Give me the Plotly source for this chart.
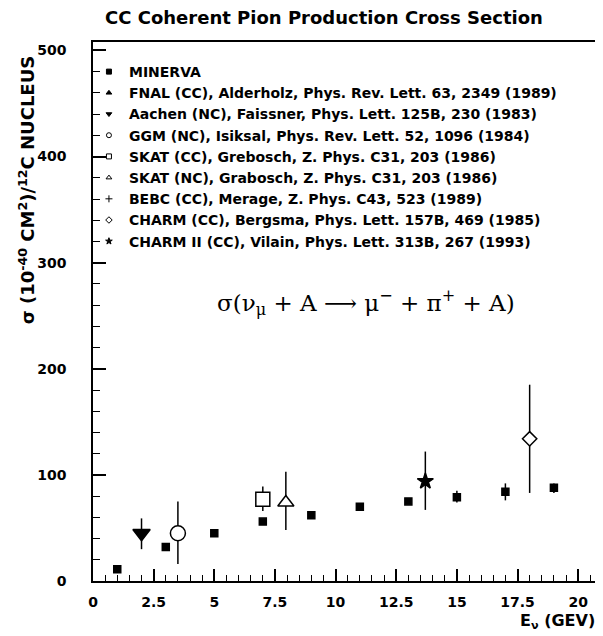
import plotly.graph_objects as go

# ---- data ----
minerva_E = [1, 3, 5, 7, 9, 11, 13, 15, 17, 19]
minerva_xs = [11, 32, 45, 56, 62, 70, 75, 79, 84, 88]
minerva_ep = [0, 0, 0, 0, 0, 0, 0, 6, 8, 4]
minerva_em = [0, 0, 0, 0, 0, 0, 0, 5, 8, 5]

aachen_E, aachen_xs, aachen_ep, aachen_em = [2.0], [45], [14], [15]
ggm_E, ggm_xs, ggm_ep, ggm_em = [3.5], [45], [30], [29]
skatcc_E, skatcc_xs, skatcc_ep, skatcc_em = [7.0], [77], [12], [11]
skatnc_E, skatnc_xs, skatnc_ep, skatnc_em = [7.95], [74], [29], [26]
bebc_E, bebc_xs, bebc_ep, bebc_em = [13.7], [94], [28], [27]
charm_E, charm_xs, charm_ep, charm_em = [18.0], [134], [51], [51]

legend_labels = [
    "MINERVA",
    "FNAL (CC), Alderholz, Phys. Rev. Lett. 63, 2349 (1989)",
    "Aachen (NC), Faissner, Phys. Lett. 125B, 230 (1983)",
    "GGM (NC), Isiksal, Phys. Rev. Lett. 52, 1096 (1984)",
    "SKAT (CC), Grebosch, Z. Phys. C31, 203 (1986)",
    "SKAT (NC), Grabosch, Z. Phys. C31, 203 (1986)",
    "BEBC (CC), Merage, Z. Phys. C43, 523 (1989)",
    "CHARM (CC), Bergsma, Phys. Lett. 157B, 469 (1985)",
    "CHARM II (CC), Vilain, Phys. Lett. 313B, 267 (1993)",
]
legend_symbols = ["square", "triangle-up", "triangle-down", "circle-open", "square-open",
                  "triangle-up-open", "cross-thin-open", "diamond-open", "star"]

x_ticks = [0, 2.5, 5, 7.5, 10, 12.5, 15, 17.5, 20]
y_ticks = [0, 100, 200, 300, 400, 500]

fig = go.Figure()

def add_pts(E, xs, ep, em, symbol, size, fill):
    fig.add_trace(go.Scatter(
        x=E, y=xs, mode="markers", showlegend=False,
        marker=dict(symbol=symbol, size=size, color=fill,
                    line=dict(color="black", width=1.5)),
        error_y=dict(type="data", array=ep, arrayminus=em, symmetric=False,
                     color="black", thickness=1.5, width=0),
    ))

add_pts(minerva_E, minerva_xs, minerva_ep, minerva_em, "square", 7, "black")
add_pts(aachen_E, aachen_xs, aachen_ep, aachen_em, "triangle-down", 15, "black")
add_pts(ggm_E, ggm_xs, ggm_ep, ggm_em, "circle", 15, "white")
add_pts(skatcc_E, skatcc_xs, skatcc_ep, skatcc_em, "square", 14, "white")
add_pts(skatnc_E, skatnc_xs, skatnc_ep, skatnc_em, "triangle-up", 14, "white")
add_pts(bebc_E, bebc_xs, bebc_ep, bebc_em, "star", 12, "black")
add_pts(charm_E, charm_xs, charm_ep, charm_em, "diamond", 11, "white")

for lab, sym in zip(legend_labels, legend_symbols):
    fig.add_trace(go.Scatter(
        x=[None], y=[None], mode="markers", name=lab,
        marker=dict(symbol=sym, size=5, color="black",
                    line=dict(color="black", width=1)),
    ))

FAM = "DejaVu Sans, sans-serif"
font_b = dict(family=FAM, color="black", weight="bold")

fig.update_layout(
    width=595, height=628,
    margin=dict(l=85, r=1, t=34, b=55),
    paper_bgcolor="white", plot_bgcolor="white",
    title=dict(text="CC Coherent Pion Production Cross Section",
               x=0.531, xanchor="center", y=0.994, yanchor="top",
               font=dict(size=18, **font_b)),
    showlegend=True,
    legend=dict(x=-0.008, y=0.974, xanchor="left", yanchor="top",
                bgcolor="rgba(0,0,0,0)", itemsizing="trace",
                font=dict(size=14, family=FAM, color="black", weight="bold"),
                tracegroupgap=0, itemwidth=30),
    xaxis=dict(range=[0, 20.9], tickvals=x_ticks, ticks="inside", ticklen=12,
               tickwidth=1.5, tickcolor="black", showline=True, linecolor="black",
               linewidth=1.5, mirror=True, showgrid=False, zeroline=False,
               tickfont=dict(size=14, **font_b), ticklabelstandoff=7,
               minor=dict(dtick=0.5, ticks="inside", ticklen=6, tickcolor="black",
                          tickwidth=1.2, showgrid=False)),
    yaxis=dict(range=[0, 508], tickvals=y_ticks, ticks="inside", ticklen=13,
               tickwidth=1.5, tickcolor="black", showline=True, linecolor="black",
               linewidth=1.5, mirror=True, showgrid=False, zeroline=False,
               tickfont=dict(size=14, **font_b), ticklabelstandoff=22,
               minor=dict(dtick=20, ticks="inside", ticklen=7, tickcolor="black",
                          tickwidth=1.2, showgrid=False)),
    annotations=[
        dict(text="σ (10<sup>-40</sup> CM<sup>2</sup>)/<sup>12</sup>C NUCLEUS",
             xref="paper", yref="paper", x=-0.13, y=0.725, textangle=-90,
             xanchor="center", yanchor="middle",
             showarrow=False, font=dict(size=18, **font_b)),
        dict(text="E<sub>ν</sub> (GEV)", xref="paper", yref="paper",
             x=0.917, y=-0.076, xanchor="center", yanchor="middle",
             showarrow=False, font=dict(size=16, **font_b)),
        dict(text="σ(ν<sub>μ</sub> + A ⟶ μ<sup>−</sup> + π<sup>+</sup> + A)",
             xref="paper", yref="paper", x=0.538, y=0.516,
             xanchor="center", yanchor="middle", showarrow=False,
             font=dict(size=23, family="DejaVu Serif, serif", color="black")),
    ],
)

fig.write_html("out.html")
